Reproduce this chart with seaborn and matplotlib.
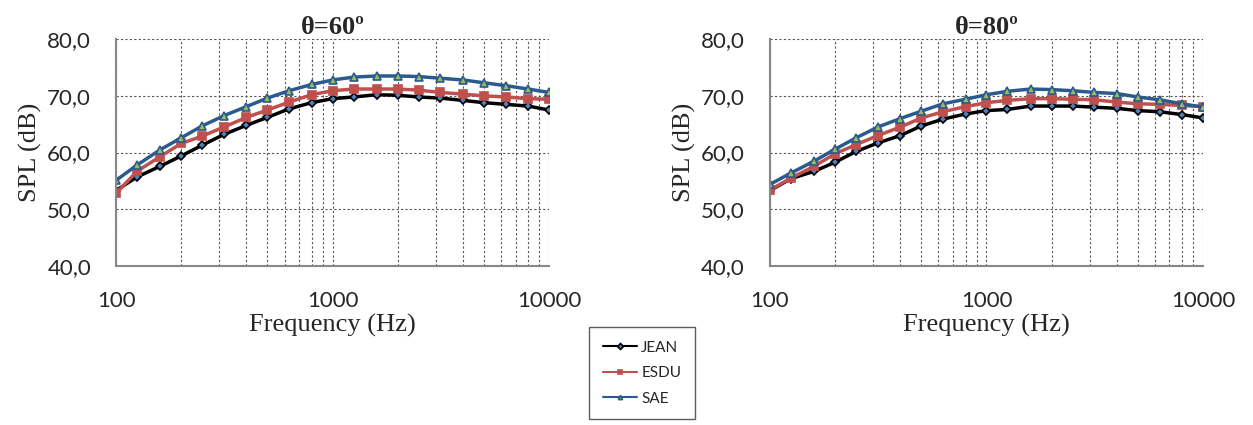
import numpy as np
import pandas as pd
import matplotlib
matplotlib.use("Agg")
import matplotlib.pyplot as plt
import matplotlib.ticker as mticker
import seaborn as sns

freqs = [100, 125, 160, 200, 250, 315, 400, 500, 630, 800, 1000,
         1250, 1600, 2000, 2500, 3150, 4000, 5000, 6300, 8000, 10000]

jean_60 = [53.3, 55.7, 57.6, 59.4, 61.3, 63.2, 64.8, 66.2, 67.7, 68.8, 69.5,
           69.8, 70.2, 70.1, 69.8, 69.6, 69.2, 68.8, 68.5, 68.2, 67.5]
esdu_60 = [52.8, 56.7, 59.3, 61.6, 62.9, 64.5, 66.2, 67.5, 68.9, 70.2, 70.9,
           71.2, 71.2, 71.2, 71.0, 70.6, 70.3, 70.0, 69.8, 69.5, 69.4]
sae_60 = [55.1, 57.8, 60.5, 62.6, 64.7, 66.5, 68.1, 69.6, 70.9, 72.0, 72.8,
          73.3, 73.5, 73.5, 73.4, 73.1, 72.8, 72.3, 71.8, 71.2, 70.6]

jean_80 = [53.3, 55.4, 56.7, 58.3, 60.2, 61.7, 63.0, 64.7, 65.9, 66.8, 67.4,
           67.6, 68.2, 68.2, 68.2, 68.0, 67.8, 67.4, 67.2, 66.7, 66.1]
esdu_80 = [53.4, 55.5, 57.6, 59.8, 61.4, 63.0, 64.5, 66.1, 67.2, 68.1, 68.8,
           69.2, 69.5, 69.5, 69.4, 69.3, 68.9, 68.6, 68.5, 68.3, 68.1]
sae_80 = [54.4, 56.4, 58.5, 60.6, 62.6, 64.5, 66.0, 67.3, 68.6, 69.4, 70.2,
          70.8, 71.2, 71.1, 70.9, 70.6, 70.4, 69.8, 69.3, 68.6, 68.0]

series_names = ["JEAN", "ESDU", "SAE"]
panel_titles = ["θ=60º", "θ=80º"]

def make_df(jean, esdu, sae):
    parts = []
    for name, vals in zip(series_names, [jean, esdu, sae]):
        parts.append(pd.DataFrame({"freq": freqs, "spl": vals, "model": name}))
    return pd.concat(parts, ignore_index=True)

panels = [make_df(jean_60, esdu_60, sae_60), make_df(jean_80, esdu_80, sae_80)]

sns.set_style("white")
plt.rcParams['font.family'] = ['Lato', 'DejaVu Sans']

colors = {"JEAN": "#000000", "ESDU": "#C0504D", "SAE": "#2A5A8E"}
markers = {"JEAN": "D", "ESDU": "s", "SAE": "^"}
msizes = {"JEAN": 4, "ESDU": 6, "SAE": 6}
mfaces = {"JEAN": "#4F81BD", "ESDU": "#C0504D", "SAE": "#9BBB59"}

fig = plt.figure(figsize=(12.53, 4.25), dpi=100)
ax_pos = [[0.0926, 0.374, 0.3456, 0.534], [0.6145, 0.374, 0.3456, 0.534]]

for pos, df, title in zip(ax_pos, panels, panel_titles):
    ax = fig.add_axes(pos)
    for name in series_names:
        sub = df[df["model"] == name]
        sns.lineplot(data=sub, x="freq", y="spl", ax=ax, color=colors[name],
                     linewidth=2.5, marker=markers[name], markersize=msizes[name],
                     markerfacecolor=mfaces[name], markeredgecolor=colors[name],
                     markeredgewidth=1.2, label=name, legend=False)
    ax.set_xscale("log")
    ax.set_xlim(100, 10000)
    ax.set_ylim(40, 80)
    ax.set_yticks([40, 50, 60, 70, 80])
    ax.yaxis.set_major_formatter(mticker.FuncFormatter(lambda v, p: f"{v:.1f}".replace(".", ",")))
    ax.xaxis.set_major_locator(mticker.FixedLocator([100, 1000, 10000]))
    ax.xaxis.set_major_formatter(mticker.FuncFormatter(lambda v, p: f"{int(v)}"))
    ax.xaxis.set_minor_locator(mticker.LogLocator(base=10, subs=np.arange(2, 10)))
    ax.xaxis.set_minor_formatter(mticker.NullFormatter())
    ax.grid(True, which="both", axis="x", color="#555555", linestyle=(0, (2, 2)), linewidth=0.8)
    ax.grid(True, which="major", axis="y", color="#555555", linestyle=(0, (2, 2)), linewidth=0.8)
    for side in ["top", "right"]:
        ax.spines[side].set_visible(False)
    for side in ["left", "bottom"]:
        ax.spines[side].set_color("#888888")
        ax.spines[side].set_linewidth(1.5)
    ax.tick_params(axis="both", which="both", length=0, labelsize=16)
    ax.tick_params(axis="y", pad=18)
    ax.tick_params(axis="x", pad=18)
    ax.set_title(title, fontsize=19, fontweight="bold", family="Liberation Serif", pad=4)
    ax.set_xlabel("Frequency (Hz)", fontsize=19, family="Liberation Serif", labelpad=2)
    ax.set_ylabel("SPL (dB)", fontsize=19, family="Liberation Serif", labelpad=4)

handles, labels = ax.get_legend_handles_labels()
leg = fig.legend(handles, labels, loc="center", bbox_to_anchor=(0.5125, 0.122),
                 frameon=True, fontsize=11, handlelength=2.2, labelspacing=0.75,
                 borderpad=0.9, handletextpad=0.3, fancybox=False, edgecolor="#333333")
for h in leg.legend_handles:
    h.set_markersize(3)
    h.set_linewidth(1.5)

fig.savefig("out.png", dpi=100)
